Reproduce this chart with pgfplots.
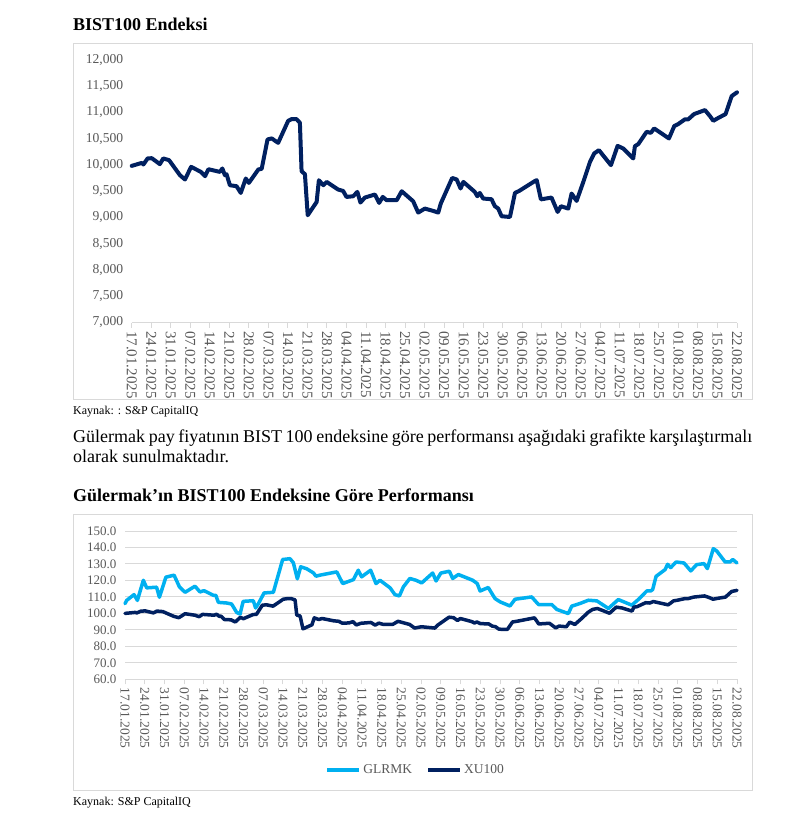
\documentclass[border=0pt]{standalone}
\usepackage{fontspec}
\setmainfont{Liberation Serif}
\usepackage{pgfplots}
\pgfplotsset{compat=1.18}

\definecolor{navy}{HTML}{002060}
\definecolor{sky}{HTML}{00B0F0}
\definecolor{gridgray}{HTML}{D9D9D9}
\definecolor{ticktxt}{HTML}{595959}

\newcommand{\fs}[1]{\fontsize{#1}{#1}\selectfont}

\pgfplotsset{
  datechart/.style={
    scale only axis, clip=false,
    xmin=0, xmax=217,
    xtick={0,7,...,217},
    xticklabels={17.01.2025,24.01.2025,31.01.2025,07.02.2025,14.02.2025,21.02.2025,28.02.2025,07.03.2025,14.03.2025,21.03.2025,28.03.2025,04.04.2025,11.04.2025,18.04.2025,25.04.2025,02.05.2025,09.05.2025,16.05.2025,23.05.2025,30.05.2025,06.06.2025,13.06.2025,20.06.2025,27.06.2025,04.07.2025,11.07.2025,18.07.2025,25.07.2025,01.08.2025,08.08.2025,15.08.2025,22.08.2025},
    axis x line*=bottom, axis y line*=left,
    x axis line style={gridgray, line width=1bp, -},
    y axis line style={draw=none},
    xtick style={gridgray, line width=1bp},
    ytick style={draw=none},
    tick align=outside, major tick length=5bp,
    xticklabel style={rotate=-90, anchor=west, text=ticktxt},
    yticklabel style={text=ticktxt},
    scaled y ticks=false,
    /pgf/number format/assume math mode=true,
    every axis plot/.append style={line join=round, line cap=round},
  }
}

\begin{document}
\begin{tikzpicture}
\fill[white] (0,0) rectangle (805bp,-815bp);

% ---- BIST100 chart
\node[anchor=base west, inner sep=0] at (73bp,-30bp) {\fs{18bp}\bfseries BIST100 Endeksi};
\draw[gridgray, line width=1bp] (73bp,-43bp) rectangle (752bp,-399bp);

\begin{axis}[datechart,
  at={(131.7bp,-322.5bp)}, anchor=south west,
  width=605.3bp, height=262.5bp,
  ymin=7000, ymax=12000, ytick={7000,7500,...,12000},
  yticklabel style={font=\fs{13.6bp}, /pgf/number format/fixed, /pgf/number format/1000 sep={,}},
  xticklabel style={font=\fs{15bp}},
]
\addplot[navy, line width=4bp] coordinates {
(0,9983) (3.6,10040) (4.2,10010) (5.7,10125) (7.2,10130) (10.1,10016) (11.3,10125) (13.4,10092)
(17.3,9806) (19.1,9724) (21.3,9965) (24.8,9869) (26.3,9787) (27.5,9920) (31.6,9869) (32.5,9934)
(33.4,9806) (34,9825) (35.2,9615) (37.6,9596) (39.1,9468) (40.9,9743) (42,9659) (45.4,9915)
(46.6,9927) (48.7,10487) (50.2,10506) (52.5,10422) (56.1,10842) (57.3,10874) (59.1,10874) (60.3,10804)
(60.9,9882) (62.1,9825) (63.1,9043) (66.3,9296) (67.1,9710) (68.7,9615) (69.9,9678) (74,9533)
(75.8,9506) (77,9392) (79.4,9405) (80.9,9488) (82,9285) (83.6,9380) (87.2,9438) (88.7,9278)
(90,9392) (91.4,9329) (95,9329) (96.8,9500) (100.9,9310) (102.7,9094) (105.1,9170) (108.1,9125)
(109.9,9094) (110.8,9266) (114.9,9754) (116.5,9724) (117.9,9552) (118.9,9678) (123,9488) (123.9,9405)
(124.8,9468) (126,9361) (129,9348) (130.2,9215) (131.4,9170) (132.6,9024) (135.6,9010) (137.4,9468)
(138.9,9506) (144.6,9697) (145.2,9710) (146.7,9345) (150.5,9380) (152.7,9106) (153.9,9215) (156.5,9170)
(157.7,9457) (159.5,9316) (161.9,9678) (164.3,10060) (165.8,10220) (167.5,10283) (171.8,9997) (174.2,10365)
(176.2,10315) (179.8,10125) (180.4,10359) (181.6,10397) (184.6,10632) (186.1,10613) (187.3,10697) (192.6,10506)
(194.5,10741) (195.9,10779) (198.3,10869) (199.5,10869) (201.6,10970) (205.5,11046) (207.3,10932) (208.5,10842)
(210,10888) (212.9,10970) (215.1,11313) (217,11384)
};
\end{axis}

\node[anchor=base west, inner sep=0] at (73bp,-414bp) {\fs{12bp}Kaynak: : S\&P CapitalIQ};

\node[anchor=base west, inner sep=0] at (73bp,-442.7bp) {\fs{18bp}\makebox[679bp][s]{Gülermak pay fiyatının BIST 100 endeksine göre performansı aşağıdaki grafikte karşılaştırmalı}};
\node[anchor=base west, inner sep=0] at (73bp,-462.7bp) {\fs{18bp}olarak sunulmaktadır.};

% ---- performance chart
\node[anchor=base west, inner sep=0] at (73bp,-501.7bp) {\fs{18bp}\bfseries Gülermak’ın BIST100 Endeksine Göre Performansı};
\draw[gridgray, line width=1bp] (73bp,-514.3bp) rectangle (752bp,-790bp);

\begin{axis}[datechart,
  at={(125bp,-679.3bp)}, anchor=south west,
  width=612bp, height=148.3bp,
  ymin=60, ymax=150, ytick={60,70,...,150},
  ymajorgrids, grid style={gridgray, line width=1bp},
  yticklabel style={font=\fs{13bp}, /pgf/number format/fixed, /pgf/number format/fixed zerofill, /pgf/number format/precision=1},
  xticklabel style={font=\fs{13.5bp}},
  legend style={at={(0.475,-0.612)}, anchor=center, draw=none, fill=none,
    font=\fs{13.5bp}, text=ticktxt, legend columns=2,
    /tikz/every even column/.append style={column sep=12bp}},
  legend image code/.code={\draw[#1, line width=4bp, line cap=butt] (0bp,0bp) -- (32bp,0bp);},
]
\addplot[sky, line width=3.5bp] coordinates {
(0,105.9) (0.6,107.9) (3.2,111.4) (4.4,107.9) (6.5,120.1) (7.7,115.5) (11.2,115.9) (12.2,109.8)
(14.5,122.0) (17.4,123.2) (19.3,116.1) (21.3,112.8) (24.8,116.5) (26.6,113.0) (28.0,113.8) (31.3,111.0)
(32.2,111.0) (33.1,106.7) (36.1,106.3) (37.8,105.7) (39.6,100.6) (40.8,99.6) (41.9,107.3) (45.5,107.7)
(46.3,103.3) (47.3,105.9) (49.3,112.4) (52.6,112.8) (55.9,132.7) (58.5,133.2) (59.7,130.7) (61.1,121.0)
(62.3,128.3) (64.4,127.1) (66.8,124.6) (67.7,122.6) (69.1,123.2) (75.1,125.2) (77.2,118.1) (81.0,120.5)
(82.7,126.2) (83.9,122.2) (87.1,126.2) (89.0,118.1) (90.4,120.1) (94.0,115.5) (95.7,111.4) (97.3,110.6)
(98.7,116.1) (101.0,121.2) (103.2,120.1) (105.2,118.5) (109.1,124.5) (110.3,119.7) (112.0,124.5) (115.0,125.6)
(116.2,121.2) (118.2,123.6) (123.3,120.1) (124.9,118.1) (125.9,113.6) (128.8,115.7) (131.2,109.0) (133.0,107.0)
(136.5,104.5) (138.3,108.6) (144.2,110.0) (146.6,105.4) (151.3,105.4) (153.1,102.4) (157.2,99.9) (158.4,104.4)
(161.3,106.0) (164.3,108.0) (167.3,107.6) (171.4,103.0) (174.9,108.4) (179.7,105.0) (182.0,108.4) (185.0,113.6)
(186.4,113.6) (187.1,114.5) (188.3,122.5) (191.5,126.6) (192.4,129.8) (193.5,127.8) (195.4,131.2) (198.2,130.6)
(200.6,125.8) (202.7,129.6) (205.3,130.2) (206.5,127.2) (208.6,139.3) (209.8,137.9) (212.8,131.2) (214.5,131.2)
(215.5,132.7) (217,130.6)
};
\addlegendentry{GLRMK}
\addplot[navy, line width=3.5bp] coordinates {
(0,100.0) (3.6,100.6) (4.2,100.3) (5.7,101.4) (7.2,101.5) (10.1,100.3) (11.3,101.4) (13.4,101.1)
(17.3,98.2) (19.1,97.4) (21.3,99.8) (24.8,98.9) (26.3,98.0) (27.5,99.4) (31.6,98.9) (32.5,99.5)
(33.4,98.2) (34,98.4) (35.2,96.3) (37.6,96.1) (39.1,94.8) (40.9,97.6) (42,96.8) (45.4,99.3)
(46.6,99.4) (48.7,105.0) (50.2,105.2) (52.5,104.4) (56.1,108.6) (57.3,108.9) (59.1,108.9) (60.3,108.2)
(60.9,99.0) (62.1,98.4) (63.1,90.6) (66.3,93.1) (67.1,97.3) (68.7,96.3) (69.9,96.9) (74,95.5)
(75.8,95.2) (77,94.1) (79.4,94.2) (80.9,95.0) (82,93.0) (83.6,94.0) (87.2,94.5) (88.7,92.9)
(90,94.1) (91.4,93.4) (95,93.4) (96.8,95.2) (100.9,93.3) (102.7,91.1) (105.1,91.9) (108.1,91.4)
(109.9,91.1) (110.8,92.8) (114.9,97.7) (116.5,97.4) (117.9,95.7) (118.9,96.9) (123,95.0) (123.9,94.2)
(124.8,94.8) (126,93.8) (129,93.6) (130.2,92.3) (131.4,91.9) (132.6,90.4) (135.6,90.3) (137.4,94.8)
(138.9,95.2) (144.6,97.1) (145.2,97.3) (146.7,93.6) (150.5,94.0) (152.7,91.2) (153.9,92.3) (156.5,91.9)
(157.7,94.7) (159.5,93.3) (161.9,96.9) (164.3,100.8) (165.8,102.4) (167.5,103.0) (171.8,100.1) (174.2,103.8)
(176.2,103.3) (179.8,101.4) (180.4,103.8) (181.6,104.1) (184.6,106.5) (186.1,106.3) (187.3,107.2) (192.6,105.2)
(194.5,107.6) (195.9,108.0) (198.3,108.9) (199.5,108.9) (201.6,109.9) (205.5,110.6) (207.3,109.5) (208.5,108.6)
(210,109.1) (212.9,109.9) (215.1,113.3) (217,114.0)
};
\addlegendentry{XU100}
\end{axis}

\node[anchor=base west, inner sep=0] at (73bp,-805bp) {\fs{12bp}Kaynak: S\&P CapitalIQ};
\end{tikzpicture}
\end{document}
